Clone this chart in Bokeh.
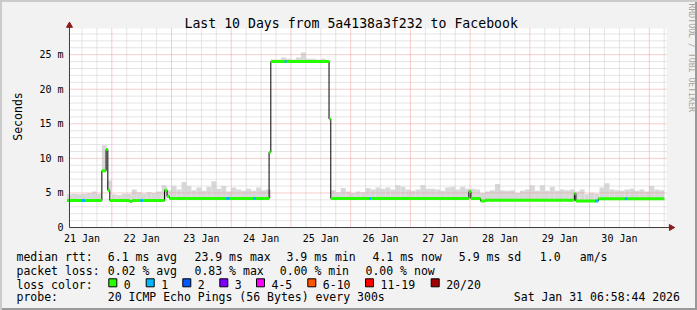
import numpy as np
import pandas as pd
from bokeh.plotting import figure
from bokeh.layouts import column
from bokeh.models import Range1d, FixedTicker, DatetimeTickFormatter, Label, Title
from bokeh.core.properties import value
from bokeh.embed import file_html
from bokeh.resources import INLINE

# ---------------- data ----------------
view_start = "2026-01-21 06:58:44"
view_end = "2026-01-31 06:58:44"
data_origin = "2026-01-21 06:00"      # start of first consolidated bin
bin_hours = 2                          # smoke bins are 2 h wide
data_end_h = 240                       # hours after origin where data stops
y_max_ms = 28.8                        # top of the graph canvas

# top of the smoke (max rtt, ms) per 2-hour bin, one row per day
smoke_top_ms = [
    4.8, 4.9, 4.8, 4.9, 5.0, 5.2, 4.9, 11.9, 6.8, 4.8, 4.7, 4.9,
    4.9, 5.5, 5.1, 4.9, 5.1, 5.0, 5.2, 6.1, 5.4, 6.0, 5.5, 6.6,
    6.0, 5.4, 5.8, 5.3, 5.9, 6.7, 5.6, 6.0, 5.2, 5.8, 5.5, 5.3,
    5.6, 5.3, 5.8, 5.4, 5.5, 24.3, 24.3, 24.6, 24.4, 24.3, 24.6, 25.3,
    24.4, 24.4, 24.3, 24.4, 24.2, 5.4, 5.1, 5.7, 5.2, 5.0, 5.2, 5.1,
    5.7, 5.5, 5.8, 5.6, 5.8, 5.5, 6.1, 5.9, 5.5, 5.3, 5.5, 6.1,
    5.6, 5.6, 5.5, 5.3, 5.8, 5.9, 5.5, 5.9, 5.6, 5.6, 5.5, 5.0,
    5.2, 5.4, 6.3, 5.4, 5.3, 5.4, 5.0, 5.3, 5.5, 6.1, 5.3, 6.1,
    5.3, 5.9, 5.3, 5.5, 5.4, 5.5, 5.2, 5.5, 4.8, 5.0, 4.9, 5.8,
    6.4, 5.5, 5.4, 5.3, 5.5, 5.6, 5.3, 5.5, 5.2, 6.0, 5.5, 5.4,
]

# median rtt as a step series: hours after origin where a value starts
median_start_h = [0, 6, 7.4, 14, 15.7, 16.4, 17.2, 25.2, 26.2, 29.5,
                  30.6, 39.2, 40.2, 41.2, 64, 65.4, 74.9, 75.9, 81.2, 81.9,
                  87.5, 88.3, 105.3, 106.0, 121.6, 122.3, 161.5, 162.3, 166.2, 168,
                  203.9, 204.5, 212.2, 213.5, 224.2, 225.3]
median_ms = [3.9, 3.9, 3.9, 8.2, 11.3, 5.4, 3.9, 3.75, 3.9, 3.9,
             3.9, 5.4, 4.5, 4.2, 4.2, 4.2, 4.2, 4.2, 10.9, 24.0,
             24.0, 24.0, 15.7, 4.2, 4.2, 4.2, 5.2, 4.2, 3.85, 3.95,
             4.9, 3.85, 3.85, 4.15, 4.15, 4.15]
median_loss = [0, 1, 0, 0, 0, 0, 0, 0, 0, 1,
               0, 0, 0, 0, 1, 0, 1, 0, 0, 0,
               1, 0, 0, 0, 1, 0, 0, 0, 0, 0,
               0, 0, 1, 0, 1, 0]

loss_labels = ["0", "1", "2", "3", "4-5", "6-10", "11-19", "20/20"]
loss_colors = ["#26ff00", "#00b8ff", "#0059ff", "#7e00ff",
               "#ff00ff", "#ff5500", "#ff0000", "#a10000"]

y_ticks = [0, 5, 10, 15, 20, 25]
y_tick_labels = ["0", "5 m", "10 m", "15 m", "20 m", "25 m"]

title_text = "Last 10 Days from 5a4138a3f232 to Facebook"
rtt_line = ["median rtt:", "6.1 ms avg", "23.9 ms max", "3.9 ms min",
            "4.1 ms now", "5.9 ms sd", "1.0", "am/s"]
loss_line = ["packet loss:", "0.02 % avg", "0.83 % max", "0.00 % min", "0.00 % now"]
probe_line = ["probe:", "20 ICMP Echo Pings (56 Bytes) every 300s",
              "Sat Jan 31 06:58:44 2026"]

# ---------------- layout constants ----------------
HOUR = 3600 * 1000.0
def ms(ts):
    return pd.Timestamp(ts).value / 1e6

MONO = "DejaVu Sans Mono"
W = 697
MAIN_H = 246            # main figure: title, graph, x-axis labels
LEG_H = 310 - MAIN_H    # legend figure below
AXIS_X = 66             # y-axis line / canvas left edge (px)
CANVAS_T = 28           # graph canvas top edge (px)
CANVAS_W, CANVAS_H = 600, 200
AXIS_Y = CANVAS_T + CANVAS_H  # 228, x-axis line
FRAME_L = 60            # plot frame edges (a little outside the axis lines,
FRAME_B = 233           # so the arrow heads are not cut)

origin = ms(data_origin)
t0, t1 = ms(view_start), ms(view_end)
ms_per_px = (t1 - t0) / CANVAS_W
val_per_px = y_max_ms / CANVAS_H
x_range = Range1d(t0 - (AXIS_X - FRAME_L) * ms_per_px, t0 + (W - AXIS_X) * ms_per_px)
y_range = Range1d(-(FRAME_B - AXIS_Y) * val_per_px, AXIS_Y * val_per_px)

CSS_BG = "#f2f2f2"
p = figure(width=W, height=MAIN_H, x_axis_type="datetime",
           x_range=x_range, y_range=y_range,
           output_backend="svg", toolbar_location=None,
           min_border_left=FRAME_L, min_border_right=0,
           min_border_top=0, min_border_bottom=MAIN_H - FRAME_B,
           background_fill_alpha=0, border_fill_alpha=0,
           outline_line_color=None, frame_align=False,
           styles={"background-color": CSS_BG,
                   "box-shadow": "inset 2px 2px 0 0 #cbcbcb, inset -2px 0 0 0 #999999"})
p.grid.visible = False

# white graph canvas
canvas = p.quad(left=[t0], right=[t1], bottom=[0], top=[y_max_ms],
                fill_color="#ffffff", line_color=None)
canvas.level = "image"

# ---------- smoke ----------
n = len(smoke_top_ms)
left_h = np.arange(n) * bin_hours
center_h = left_h + bin_hours / 2
idx = np.searchsorted(np.array(median_start_h), center_h, side="right") - 1
smoke_bottom = np.array(median_ms)[idx]
sm = p.quad(left=origin + left_h * HOUR, right=origin + (left_h + bin_hours) * HOUR,
            bottom=smoke_bottom, top=smoke_top_ms,
            fill_color="#d8d8d8", line_color=None)
sm.level = "image"

# ---------- grid (drawn inside the canvas only) ----------
minor_y = [v for v in range(1, 29) if v % 5]
major_y = [5, 10, 15, 20, 25]
six = pd.date_range("2026-01-21 12:00", "2026-01-31 06:00", freq="6h")
minor_x = [t.value / 1e6 for t in six if t.hour != 0]
major_x = [t.value / 1e6 for t in pd.date_range("2026-01-22", "2026-01-31", freq="1D")]
noons = [t.value / 1e6 for t in pd.date_range("2026-01-21 12:00", "2026-01-30 12:00", freq="1D")]

GRID_MINOR, GRID_MAJOR = "#cacaca", "#f09a9a"
for ys, col in [(minor_y, GRID_MINOR), (major_y, GRID_MAJOR)]:
    r = p.segment(x0=[t0] * len(ys), x1=[t1] * len(ys), y0=ys, y1=ys,
                  line_color=col, line_dash="1 1", line_width=1)
    r.level = "underlay"
for xs, col in [(minor_x, GRID_MINOR), (major_x, GRID_MAJOR)]:
    r = p.segment(x0=xs, x1=xs, y0=[0] * len(xs), y1=[y_max_ms] * len(xs),
                  line_color=col, line_dash="1 1", line_width=1)
    r.level = "underlay"

# ---------- median ----------
sx = [origin + h * HOUR for h in median_start_h] + [origin + data_end_h * HOUR]
sy = list(median_ms) + [median_ms[-1]]
p.step(sx, sy, mode="after", line_color="#000000", line_width=1)
seg_col = [loss_colors[l] for l in median_loss]
p.segment(x0=sx[:-1], x1=sx[1:], y0=median_ms, y1=median_ms,
          line_color=seg_col, line_width=3, line_cap="butt")

# ---------- axes ----------
AX = "#3c3c3c"
ARR = "#8c1c1c"
y_arrow_tip = (AXIS_Y - 21.7) * val_per_px
x_arrow_tip = t0 + (674 - AXIS_X) * ms_per_px
p.yaxis.ticker = FixedTicker(ticks=y_ticks)
p.yaxis.major_label_overrides = {t: s for t, s in zip(y_ticks, y_tick_labels)}
p.xaxis.ticker = FixedTicker(ticks=noons)
p.xaxis.formatter = DatetimeTickFormatter(days="%d %b", hours="%d %b", months="%d %b",
                                          minutes="%d %b", hourmin="%d %b")
for ax in (p.xaxis, p.yaxis):
    ax.axis_line_color = None
    ax.major_tick_out = 0
    ax.major_tick_in = 0
    ax.minor_tick_out = 0
    ax.minor_tick_in = 0
    ax.major_label_text_font = MONO
    ax.major_label_text_font_size = "10px"
    ax.major_label_text_color = "#000000"
    ax.major_label_standoff = 0

# axis rules with arrow heads, drawn at value 0 / view start
p.segment(x0=[t0, t0], y0=[0, 0], x1=[t0, x_arrow_tip], y1=[y_arrow_tip, 0],
          line_color=AX, line_width=1)
HEAD = 6
tip_off = HEAD / 2 * np.sqrt(3) * 2 / 3
p.scatter(x=[t0], y=[y_arrow_tip - tip_off * val_per_px], marker="triangle", size=HEAD,
          fill_color=ARR, line_color=ARR)
p.scatter(x=[x_arrow_tip - tip_off * ms_per_px], y=[0], marker="triangle", size=HEAD,
          angle=-np.pi / 2, fill_color=ARR, line_color=ARR)

# y-axis unit label, centred on the graph canvas (not on the whole frame)
p.add_layout(Title(text="Seconds", align="center", offset=-(CANVAS_T + CANVAS_H / 2 - FRAME_B / 2),
                   standoff=20, vertical_align="top", text_font=MONO, text_font_size="11.5px",
                   text_font_style="normal", text_color="#000000"), "left")

# ---------- title and watermark (inside the frame) ----------
def put(text, X, Y, size, align="left", color="#000000", angle=0.0, baseline="alphabetic"):
    return Label(x=X - FRAME_L, y=FRAME_B - Y, x_units="screen", y_units="screen",
                 text=text, text_font=MONO, text_font_size=size, text_align=align,
                 text_baseline=baseline, text_color=color, angle=angle)

p.add_layout(put(title_text, 347.7, 23.5, "13.2px", align="center"))
p.add_layout(put("RRDTOOL / TOBI OETIKER", 688.5, 4, "8.2px", color="#a4a4a4",
                 angle=-np.pi / 2, baseline="middle"))

# ---------------- legend figure ----------------
q = figure(width=W, height=LEG_H, x_range=Range1d(0, W), y_range=Range1d(310, MAIN_H),
           output_backend="svg", toolbar_location=None,
           x_axis_location=None, y_axis_location=None,
           min_border_left=0, min_border_right=0, min_border_top=0, min_border_bottom=0,
           background_fill_alpha=0, border_fill_alpha=0, outline_line_color=None,
           frame_align=False,
           styles={"background-color": CSS_BG,
                   "box-shadow": "inset 2px 0 0 0 #cbcbcb, inset -2px -2px 0 0 #999999"})
q.grid.visible = False

ROW_Y = [256, 270, 284, 296.5]
txt_x, txt_y, txt = [], [], []
for s, X in zip(rtt_line, [16, 107.3, 194, 286, 372, 458.3, 539.3, 579.3]):
    txt_x.append(X); txt_y.append(ROW_Y[0]); txt.append(s)
for s, X in zip(loss_line, [16, 107.3, 194, 279.3, 365]):
    txt_x.append(X); txt_y.append(ROW_Y[1]); txt.append(s)
txt_x.append(16); txt_y.append(ROW_Y[2]); txt.append("loss color:")
box_x = [108.3, 145.7, 182.3, 219.3, 256, 307.3, 365, 430.7]
for s, X in zip(loss_labels, box_x):
    txt_x.append(X + 15); txt_y.append(ROW_Y[2]); txt.append(s)
for s, X in zip(probe_line, [16, 107.3, 513.3]):
    txt_x.append(X); txt_y.append(ROW_Y[3]); txt.append(s)

q.text(x=txt_x, y=txt_y, text=txt, text_font=value(MONO), text_font_size=value("11.5px"),
       text_baseline="alphabetic", text_align="left", text_color="#000000")
q.quad(left=box_x, right=[b + 8 for b in box_x], top=[278.3] * len(box_x),
       bottom=[286.3] * len(box_x), fill_color=loss_colors, line_color="#000000", line_width=1)

layout = column(p, q, spacing=0)
open("out.html", "w").write(file_html(layout, INLINE))
